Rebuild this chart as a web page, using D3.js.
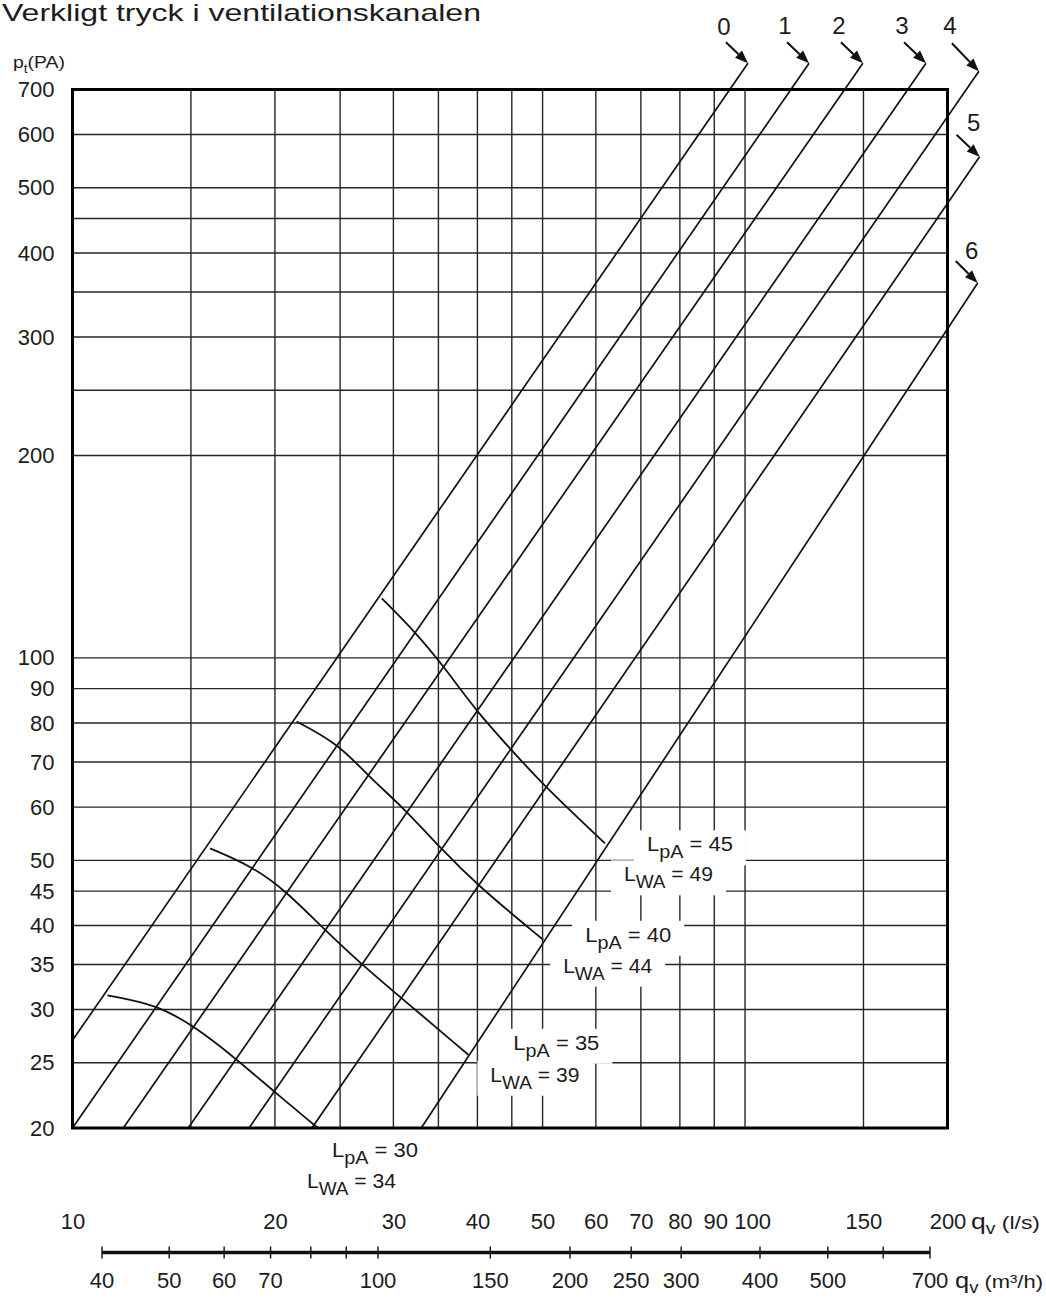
<!DOCTYPE html>
<html>
<head>
<meta charset="utf-8">
<script src="https://cdn.jsdelivr.net/npm/d3@7/dist/d3.min.js"></script>
<style>
  body { margin: 0; background: #fff; }
  svg { font-family: "Liberation Sans", Arial, sans-serif; }
</style>
</head>
<body>
<div id="chart"></div>
<script>
// axis values
const yTicks = [700, 600, 500, 400, 300, 200, 100, 90, 80, 70, 60, 50, 45, 40, 35, 30, 25, 20];
const yGrid = [600, 500, 450, 400, 350, 300, 250, 200, 100, 90, 80, 70, 60, 50, 45, 40, 35, 30, 25];
const xTicks = [10, 20, 30, 40, 50, 60, 70, 80, 90, 100, 150, 200];
const xGrid = [15, 20, 25, 30, 35, 40, 45, 50, 60, 70, 80, 90, 100, 150];
const m3hTicks = [40, 50, 60, 70, 80, 90, 100, 150, 200, 250, 300, 400, 500, 600, 700];
const m3hLabels = [40, 50, 60, 70, 100, 150, 200, 250, 300, 400, 500, 700];

// damper setting lines 0..6 (q l/s, p Pa) start and end
const lineNames = ['0', '1', '2', '3', '4', '5', '6'];
const lineStartQ = [10, 10, 11.9, 14.86, 18.3, 22.7, 33.0];
const lineStartP = [27.0, 20, 20, 20, 20, 20, 20];
const lineEndQ = [101, 124.5, 149.7, 185.8, 222.7, 223.2, 221.8];
const lineEndP = [766, 766, 766, 766, 745, 556, 361];

// sound level curves
const levelLpA = [30, 35, 40, 45];
const levelLwA = [34, 39, 44, 49];
const curve30 = [[11.27, 31.5], [13.34, 30.5], [15.12, 28.4], [17.39, 25.5], [19.89, 22.7], [23.17, 20]];
const curve35 = [[16.01, 52.1], [18.57, 48.9], [20.82, 44.9], [23.6, 39.6], [26.76, 35.2], [30.5, 31.5], [38.78, 25.7]];
const curve40 = [[21.54, 80.4], [24.85, 74.5], [27.54, 66.7], [31.2, 59.6], [35.2, 52.2], [39.9, 46.0], [50.1, 38.1]];
const curve45 = [[28.83, 122.6], [32.3, 109.4], [35.6, 97.3], [39.9, 83.2], [44.7, 73.4], [50.1, 64.7], [61.9, 53.0]];
const curves = [curve30, curve35, curve40, curve45];

// layout offsets for annotations (px)
const arrowDx = [-22, -22, -22, -22, -27, -23, -22];
const arrowDy = [-21, -21, -21, -21, -28, -22, -22];
const numDx = [-24, -24, -24, -24, -29, -6, -6];
const numDy = [-37, -38, -38, -38, -46, -34, -33];
const lpaDx = [14, 45, 42, 42], lpaDy = [29, -5, 2, 8];
const lwaDx = [-11, 22, 20, 19], lwaDy = [60, 27, 33, 38];

const W = 1046, H = 1301;
const ink = '#1c1c1c';

const svg = d3.select('#chart').append('svg')
    .attr('width', W)
    .attr('height', H);

const x = d3.scaleLog().domain([10, 200]).range([72.5, 947.5]);
const y = d3.scaleLog().domain([20, 700]).range([1128, 89.5]);
// the m3/h scale in the drawing is not quite aligned with l/s, so calibrate it piecewise
const xm = d3.scaleLog().domain([40, 100, 200, 400, 700]).range([102, 378, 570, 760, 930]);

const gGrid = svg.append('g');
const gBoxes = svg.append('g');
const gMarks = svg.append('g');
const gText = svg.append('g').attr('fill', ink);

// grid
gGrid.selectAll('line.h').data(yGrid).join('line')
    .attr('class', 'h')
    .attr('x1', x(10)).attr('x2', x(200))
    .attr('y1', d => y(d)).attr('y2', d => y(d))
    .attr('stroke', '#262626').attr('stroke-width', 1.4);

gGrid.selectAll('line.v').data(xGrid).join('line')
    .attr('class', 'v')
    .attr('x1', d => x(d)).attr('x2', d => x(d))
    .attr('y1', y(20)).attr('y2', y(700))
    .attr('stroke', '#262626').attr('stroke-width', 1.4);

// damper lines
const line = d3.line().x(d => x(d[0])).y(d => y(d[1]));
lineNames.forEach((name, i) => {
    const pts = [[lineStartQ[i], lineStartP[i]], [lineEndQ[i], lineEndP[i]]];
    gMarks.append('path')
        .attr('d', line(pts))
        .attr('fill', 'none')
        .attr('stroke', '#111')
        .attr('stroke-width', 1.7);

    const tx = x(lineEndQ[i]), ty = y(lineEndP[i]);
    const sx = tx + arrowDx[i], sy = ty + arrowDy[i];
    const len = Math.hypot(tx - sx, ty - sy);
    const ux = (tx - sx) / len, uy = (ty - sy) / len;
    const hl = 13, hw = 5;
    const bx = tx - ux * hl, by = ty - uy * hl;
    gMarks.append('line')
        .attr('x1', sx).attr('y1', sy).attr('x2', bx).attr('y2', by)
        .attr('stroke', '#111').attr('stroke-width', 2);
    gMarks.append('path')
        .attr('d', `M${tx},${ty}L${bx - uy * hw},${by + ux * hw}L${bx + uy * hw},${by - ux * hw}Z`)
        .attr('fill', '#111');

    gText.append('text')
        .attr('x', tx + numDx[i])
        .attr('y', ty + numDy[i])
        .attr('dy', '0.36em')
        .attr('text-anchor', 'middle')
        .style('font-size', '24px')
        .text(name);
});

// sound level curves
const curveLine = d3.line()
    .x(d => x(d[0]))
    .y(d => y(d[1]))
    .curve(d3.curveBasis);

curves.forEach(c => {
    gMarks.append('path')
        .attr('d', curveLine(c))
        .attr('fill', 'none')
        .attr('stroke', '#111')
        .attr('stroke-width', 1.8);
});

// frame
svg.append('rect')
    .attr('x', x(10)).attr('y', y(700))
    .attr('width', x(200) - x(10))
    .attr('height', y(20) - y(700))
    .attr('fill', 'none')
    .attr('stroke', '#000')
    .attr('stroke-width', 3);

// subscript label helper
function subLabel(g, px, py, main, sub, rest, size, subSize, width) {
    const t = g.append('text')
        .attr('x', px).attr('y', py)
        .attr('textLength', width)
        .attr('lengthAdjust', 'spacingAndGlyphs')
        .style('font-size', size + 'px');
    t.append('tspan').text(main);
    t.append('tspan').attr('dy', 7).style('font-size', subSize + 'px').text(sub);
    t.append('tspan').attr('dy', -7).text(rest);
    return t;
}

curves.forEach((c, i) => {
    const last = c[c.length - 1];
    const ex = x(last[0]), ey = y(last[1]);
    const t1 = subLabel(gText, ex + lpaDx[i], ey + lpaDy[i], 'L', 'pA', ` = ${levelLpA[i]}`, 20, 18, 86);
    const t2 = subLabel(gText, ex + lwaDx[i], ey + lwaDy[i], 'L', 'WA', ` = ${levelLwA[i]}`, 20, 18, 89);
    [t1, t2].forEach(t => {
        const b = t.node().getBBox();
        gBoxes.append('rect')
            .attr('x', b.x - 13).attr('y', b.y - 3)
            .attr('width', b.width + 26).attr('height', b.height + 6)
            .attr('fill', '#fff');
    });
});

// y axis labels
const yAxis = svg.append('g')
    .attr('transform', `translate(${x(10)},0)`)
    .call(d3.axisLeft(y).tickValues(yTicks).tickSize(0).tickPadding(18).tickFormat(d3.format('d')));
yAxis.select('.domain').remove();
yAxis.attr('font-family', null).attr('font-size', null);
yAxis.selectAll('text').style('font-size', '22px').attr('fill', ink);

// q l/s labels
const xAxis = svg.append('g')
    .attr('transform', 'translate(0,1213)')
    .call(d3.axisBottom(x).tickValues(xTicks).tickSize(0).tickPadding(0).tickFormat(d3.format('d')));
xAxis.select('.domain').remove();
xAxis.attr('font-family', null).attr('font-size', null);
xAxis.selectAll('text').style('font-size', '22px').attr('fill', ink)
    .attr('dx', d => d === 100 ? 7 : d === 90 ? 1 : 0);

// m3/h scale
const mY = 1252.5;
svg.append('line')
    .attr('x1', xm(40)).attr('x2', xm(700))
    .attr('y1', mY).attr('y2', mY)
    .attr('stroke', '#111').attr('stroke-width', 3.5);
svg.append('g').selectAll('line').data(m3hTicks).join('line')
    .attr('x1', d => xm(d)).attr('x2', d => xm(d))
    .attr('y1', mY - 6).attr('y2', mY + 6)
    .attr('stroke', '#111').attr('stroke-width', 1.4);
gText.selectAll('text.m3').data(m3hLabels).join('text')
    .attr('class', 'm3')
    .attr('x', d => xm(d)).attr('y', 1288)
    .attr('text-anchor', 'middle')
    .style('font-size', '22px')
    .text(d => d);

// unit labels
function unitLabel(px, py, unit, width) {
    const t = gText.append('text')
        .attr('x', px).attr('y', py)
        .attr('textLength', width)
        .attr('lengthAdjust', 'spacingAndGlyphs')
        .style('font-size', '22px');
    t.append('tspan').text('q');
    t.append('tspan').attr('dy', 5).style('font-size', '16px').text('v');
    t.append('tspan').attr('dy', -5).style('font-size', '19px').text(' ' + unit);
}
unitLabel(971, 1229, '(l/s)', 69);
unitLabel(955, 1288, '(m³/h)', 88);

// pressure label
const pl = gText.append('text')
    .attr('x', 13).attr('y', 68)
    .attr('textLength', 52)
    .attr('lengthAdjust', 'spacingAndGlyphs')
    .style('font-size', '17px');
pl.append('tspan').text('p');
pl.append('tspan').attr('dy', 5).style('font-size', '12px').text('t');
pl.append('tspan').attr('dy', -5).text('(PA)');

// title (partly cut at the top edge in the original)
gText.append('text')
    .attr('x', 2).attr('y', 21)
    .attr('textLength', 479)
    .attr('lengthAdjust', 'spacingAndGlyphs')
    .style('font-size', '24px')
    .text('Verkligt tryck i ventilationskanalen');
</script>
</body>
</html>
